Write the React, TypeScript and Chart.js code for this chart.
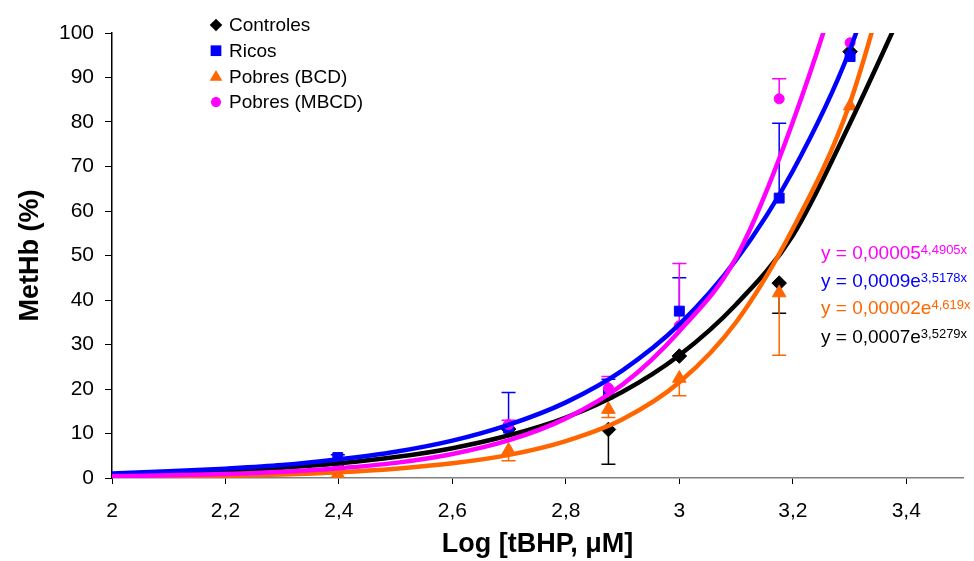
import React, { useEffect, useRef } from 'react';
import { Chart, registerables } from 'chart.js';

Chart.register(...registerables);

const FONT = "'Liberation Sans', Arial, Helvetica, sans-serif";

// Series names and colours
const seriesNames = ['Controles', 'Ricos', 'Pobres (BCD)', 'Pobres (MBCD)'];
const seriesColors = ['#000000', '#0000FF', '#FF6600', '#FF00FF'];
const seriesMarkers = ['rectRot', 'rect', 'triangle', 'circle'];

// Measured points: x = log [tBHP, µM]
const xPoints = [2.398, 2.699, 2.875, 3.0, 3.176, 3.301];
const controles = [3.2, 11.0, 10.9, 27.4, 43.8, 95.8];
const ricos = [4.6, 11.2, 18.9, 37.5, 62.9, 94.7];
const pobresBCD = [0.9, 6.2, 15.4, 22.4, 41.6, 83.6];
const pobresMBCD = [2.3, 12.0, 20.2, 34.2, 85.2, 97.8];

// Error bars (one-sided, as drawn)
const controlesErrMinus = [0, 0, 7.8, 0, 6.8, 0];
const ricosErrPlus = [0.6, 8.0, 3.3, 7.5, 16.8, 0];
const bcdErrMinus = [0, 2.3, 1.8, 3.9, 14.0, 0];
const mbcdErrPlus = [0, 1.0, 2.6, 14.0, 4.5, 0];

// Exponential trend lines
const trendX = [2.0, 2.1, 2.2, 2.3, 2.4, 2.5, 2.6, 2.7, 2.8, 2.9, 3.0, 3.1, 3.2, 3.3, 3.4];
const trendControles = [0.8, 1.2, 1.6, 2.3, 3.3, 4.7, 6.7, 9.6, 13.6, 19.4, 27.6, 39.0, 54.5, 79.5, 107];
const trendRicos = [1.0, 1.5, 2.1, 2.9, 4.2, 5.9, 8.4, 12.0, 17.0, 24.2, 34.5, 49.0, 69.0, 96.0, 135];
const trendBCD = [0.2, 0.3, 0.5, 0.8, 1.3, 2.1, 3.3, 5.2, 8.3, 13.2, 21.5, 35.0, 56.0, 84.0, 128];
const trendMBCD = [0.4, 0.6, 0.9, 1.4, 2.2, 3.4, 5.4, 8.5, 13.4, 21.0, 33.0, 49.5, 80.0, 120, 175];

// Trend equations
const eqMain = ['y = 0,00005', 'y = 0,0009e', 'y = 0,00002e', 'y = 0,0007e'];
const eqExp = ['4,4905x', '3,5178x', '4,619x', '3,5279x'];
const eqColors = ['#FF00FF', '#0000FF', '#FF6600', '#000000'];

// Axis
const xMin = 2;
const xMax = 3.5;
const xStep = 0.2;
const yMin = 0;
const yMax = 100;
const yStep = 10;

function drawMarker(ctx: CanvasRenderingContext2D, style: string, x: number, y: number, r: number, color: string) {
  ctx.save();
  ctx.fillStyle = color;
  ctx.beginPath();
  if (style === 'rectRot') {
    ctx.moveTo(x, y - r);
    ctx.lineTo(x + r, y);
    ctx.lineTo(x, y + r);
    ctx.lineTo(x - r, y);
  } else if (style === 'rect') {
    ctx.rect(x - r * 0.85, y - r * 0.85, r * 1.7, r * 1.7);
  } else if (style === 'triangle') {
    ctx.moveTo(x, y - r * 1.0);
    ctx.lineTo(x + r, y + r * 0.7);
    ctx.lineTo(x - r, y + r * 0.7);
  } else {
    ctx.arc(x, y, r * 0.8, 0, Math.PI * 2);
  }
  ctx.closePath();
  ctx.fill();
  ctx.restore();
}

const errorBarPlugin = {
  id: 'errorBars',
  beforeDatasetsDraw(chart: any) {
    const ctx = chart.ctx;
    const xs = chart.scales.x;
    const ys = chart.scales.y;
    const sets = [
      { vals: controles, err: controlesErrMinus, sign: -1, color: seriesColors[0] },
      { vals: ricos, err: ricosErrPlus, sign: 1, color: seriesColors[1] },
      { vals: pobresBCD, err: bcdErrMinus, sign: -1, color: seriesColors[2] },
      { vals: pobresMBCD, err: mbcdErrPlus, sign: 1, color: seriesColors[3] },
    ];
    ctx.save();
    ctx.lineWidth = 1.5;
    sets.forEach((s) => {
      ctx.strokeStyle = s.color;
      xPoints.forEach((xv, i) => {
        if (!s.err[i]) return;
        const px = xs.getPixelForValue(xv);
        const py0 = ys.getPixelForValue(s.vals[i]);
        const py1 = ys.getPixelForValue(s.vals[i] + s.sign * s.err[i]);
        ctx.beginPath();
        ctx.moveTo(px, py0);
        ctx.lineTo(px, py1);
        ctx.moveTo(px - 7, py1);
        ctx.lineTo(px + 7, py1);
        ctx.stroke();
      });
    });
    ctx.restore();
  },
};

const annotationsPlugin = {
  id: 'annotations',
  afterDraw(chart: any) {
    const ctx = chart.ctx;
    ctx.save();
    // legend
    ctx.textBaseline = 'middle';
    ctx.textAlign = 'left';
    ctx.font = `19px ${FONT}`;
    seriesNames.forEach((name, i) => {
      const cy = 25 + i * 25.7;
      drawMarker(ctx, seriesMarkers[i], 216, cy, 6.3, seriesColors[i]);
      ctx.fillStyle = '#000';
      ctx.fillText(name, 229, cy + 1);
    });
    // equations
    ctx.textBaseline = 'alphabetic';
    const baselines = [259, 286.5, 314, 343];
    eqMain.forEach((t, i) => {
      ctx.fillStyle = eqColors[i];
      ctx.font = `19px ${FONT}`;
      ctx.fillText(t, 821, baselines[i]);
      const w = ctx.measureText(t).width;
      ctx.font = `13px ${FONT}`;
      ctx.fillText(eqExp[i], 821 + w, baselines[i] - 5);
    });
    ctx.restore();
  },
};

const fmt = (v: number) => {
  const r = Math.round(v * 10) / 10;
  return Number.isInteger(r) ? String(r) : r.toFixed(1).replace('.', ',');
};

export default function App() {
  const ref = useRef<HTMLCanvasElement | null>(null);

  useEffect(() => {
    if (!ref.current) return;
    const pts = (ys: number[]) => xPoints.map((x, i) => ({ x, y: ys[i] }));
    const trend = (ys: number[]) => trendX.map((x, i) => ({ x, y: ys[i] }));

    const trendDs = (ys: number[], color: string) => ({
      type: 'line' as const,
      data: trend(ys),
      borderColor: color,
      backgroundColor: color,
      borderWidth: 4.5,
      pointRadius: 0,
      showLine: true,
      fill: false,
      cubicInterpolationMode: 'monotone' as const,
    });
    const pointDs = (ys: number[], i: number, radius: number) => ({
      type: 'scatter' as const,
      label: seriesNames[i],
      data: pts(ys),
      pointStyle: seriesMarkers[i],
      pointRadius: radius,
      backgroundColor: seriesColors[i],
      borderColor: seriesColors[i],
      borderWidth: 1,
      showLine: false,
    });

    const chart = new Chart(ref.current, {
      type: 'scatter',
      data: {
        datasets: [
          trendDs(trendMBCD, seriesColors[3]),
          trendDs(trendBCD, seriesColors[2]),
          trendDs(trendRicos, seriesColors[1]),
          trendDs(trendControles, seriesColors[0]),
          pointDs(pobresMBCD, 3, 5),
          pointDs(pobresBCD, 2, 7.8),
          pointDs(ricos, 1, 7),
          pointDs(controles, 0, 7.3),
        ] as any,
      },
      options: {
        responsive: false,
        animation: false,
        layout: { padding: { top: 33, right: 11, left: 0, bottom: 0 } },
        plugins: {
          legend: { display: false },
          tooltip: { enabled: false },
        },
        scales: {
          x: {
            type: 'linear',
            min: xMin,
            max: xMax,
            ticks: {
              stepSize: xStep,
              color: '#000',
              padding: 15,
              font: { size: 21, family: FONT },
              callback: (v: any) => fmt(Number(v)),
            },
            grid: { display: true, drawOnChartArea: false, drawTicks: true, tickLength: 6, color: '#000', lineWidth: 1 },
            border: { display: true, color: '#808080', width: 1.5 },
            title: {
              display: true,
              text: 'Log [tBHP, μM]',
              color: '#000',
              font: { size: 27, weight: 'bold', family: FONT },
              padding: { top: 0, bottom: 0 },
            },
            afterBuildTicks: (s: any) => {
              s.ticks = s.ticks.filter((t: any) => Math.abs(t.value - xMax) > 1e-6);
            },
            afterFit: (s: any) => {
              s.height = 83;
            },
          },
          y: {
            type: 'linear',
            min: yMin,
            max: yMax,
            ticks: {
              stepSize: yStep,
              color: '#000',
              padding: 11,
              font: { size: 21, family: FONT },
            },
            grid: { display: true, drawOnChartArea: false, drawTicks: true, tickLength: 7, color: '#000', lineWidth: 1 },
            border: { display: true, color: '#000', width: 1.5 },
            title: {
              display: true,
              text: 'MetHb (%)',
              color: '#000',
              font: { size: 27, weight: 'bold', family: FONT },
              padding: { top: 14, bottom: 0 },
            },
            afterFit: (s: any) => {
              s.width = 112;
            },
          },
        },
      } as any,
      plugins: [errorBarPlugin, annotationsPlugin],
    });
    return () => chart.destroy();
  }, []);

  return (
    <div style={{ position: 'fixed', left: 0, top: 0, width: 974, height: 561, background: '#fff' }}>
      <canvas ref={ref} width={974} height={561} />
    </div>
  );
}
